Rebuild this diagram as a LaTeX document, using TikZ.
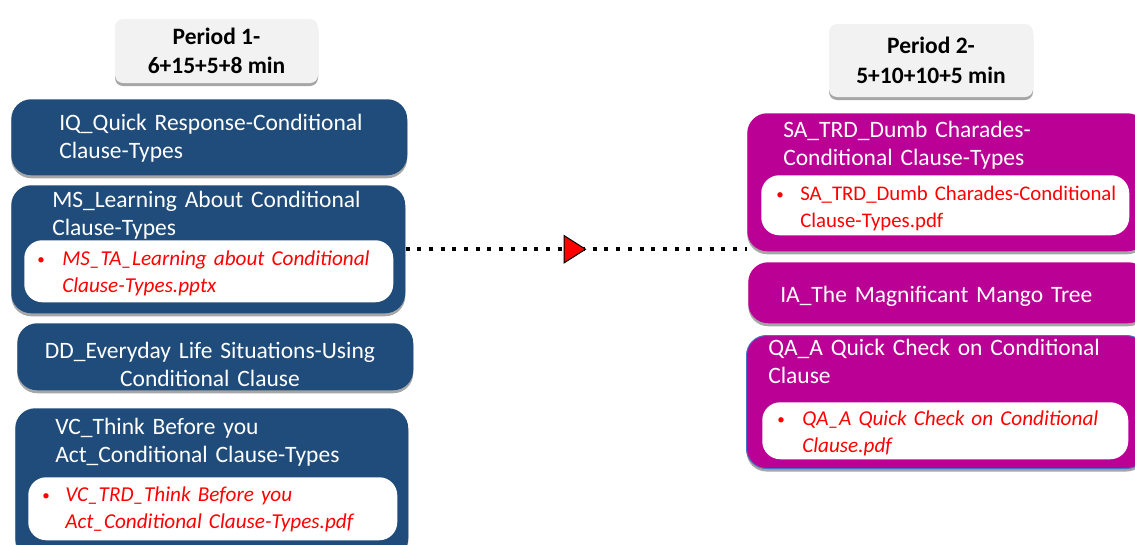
\documentclass[tikz,border=0pt]{standalone}
\usepackage{fontspec}
\setmainfont{Carlito}
\usepackage{xcolor}
\usetikzlibrary{arrows.meta, decorations.markings, shadows}
\definecolor{lessonblue}{RGB}{31,76,122}
\definecolor{lessonpink}{RGB}{187,0,150}
\definecolor{edgeblue}{RGB}{68,114,196}
\definecolor{periodgray}{RGB}{242,242,242}
\newcommand{\filebullet}[1]{\llap{\makebox[#1][l]{\fontsize{15}{15}\selectfont\raisebox{1pt}{•}}}}

\begin{document}
\begin{tikzpicture}[x=1pt, y=-1pt, line width=0.5pt,
		every node/.style={inner sep=0pt},
		boxshadow/.style={drop shadow={shadow xshift=0pt, shadow yshift=-3pt, fill=black, opacity=0.35}},
		period/.style={fill=periodgray, rounded corners=8pt, boxshadow, align=center,
			font=\bfseries\fontsize{23.5}{29.5}\selectfont},
		bluebox/.style={fill=lessonblue, rounded corners=20pt, anchor=north west, boxshadow},
		pinkbox/.style={fill=lessonpink, rounded corners=20pt, anchor=north west, boxshadow},
		filebox/.style={fill=white, rounded corners=18pt, anchor=north west},
		ttl/.style={text=white, text width=380pt, align=left, anchor=base west,
			font=\fontsize{23.5}{28.5}\selectfont},
		file/.style={text=red, text width=340pt, align=left, anchor=base west,
			font=\fontsize{21.2}{27.5}\selectfont},
		dotline/.style={line width=4pt, dash pattern=on 4pt off 7.7pt}]
	\useasboundingbox (0,0) rectangle (1135,544);

	% period 1
	\node[period, minimum width=203pt, minimum height=64pt] (p1) at (216.5,51) {Period 1-\\6+15+5+8 min};

	\node[bluebox, minimum width=396pt, minimum height=76pt] (iq) at (11,99) {};
	\node[ttl] (iqt) at (59,130) {IQ\_Quick Response-Conditional\\Clause-Types};

	\node[bluebox, minimum width=394pt, minimum height=128pt] (ms) at (11,185) {};
	\node[ttl] (mst) at (52,207) {MS\_Learning About Conditional\\Clause-Types};
	\node[filebox, minimum width=369pt, minimum height=62pt] (msf) at (24,240) {};
	\node[file] (msft) at (62,265) {\filebullet{25pt}\itshape MS\_TA\_Learning about Conditional\\Clause-Types.pptx};

	\node[bluebox, minimum width=396pt, minimum height=67pt] (dd) at (17,323) {};
	\node[ttl, text width=396pt, align=center, anchor=base] (ddt) at (210,358) {DD\_Everyday Life Situations-Using\\Conditional Clause};

	\node[bluebox, minimum width=393pt, minimum height=150pt] (vc) at (15,408) {};
	\node[ttl] (vct) at (55,434) {VC\_Think Before you\\Act\_Conditional Clause-Types};
	\node[filebox, minimum width=369pt, minimum height=63pt] (vcf) at (28,477) {};
	\node[file] (vcft) at (65,501) {\filebullet{23pt}\itshape VC\_TRD\_Think Before you\\Act\_Conditional Clause-Types.pdf};

	% period 2
	\node[period, minimum width=204pt, minimum height=73pt] (p2) at (931,60.5) {Period 2-\\5+10+10+5 min};

	\node[pinkbox, minimum width=400pt, minimum height=138pt] (sa) at (747,113) {};
	\node[ttl] (sat) at (783,137) {SA\_TRD\_Dumb Charades-\\Conditional Clause-Types};
	\node[filebox, minimum width=368pt, minimum height=60pt] (saf) at (761,175) {};
	\node[file, font=\fontsize{20.8}{27.5}\selectfont] (saft) at (800,200) {\filebullet{24pt}SA\_TRD\_Dumb Charades-Conditional\\Clause-Types.pdf};

	\node[pinkbox, minimum width=400pt, minimum height=61pt] (ia) at (748,262) {};
	\node[ttl] (iat) at (780,302) {IA\_The Magnificant Mango Tree};

	\node[pinkbox, draw=edgeblue, line width=1pt, minimum width=400pt, minimum height=133pt] (qa) at (746,335) {};
	\node[ttl] (qat) at (768,355) {QA\_A Quick Check on Conditional\\Clause};
	\node[filebox, minimum width=366pt, minimum height=57pt] (qaf) at (762,402) {};
	\node[file] (qaft) at (802,425) {\filebullet{25pt}\itshape QA\_A Quick Check on Conditional\\Clause.pdf};

	% link between the periods
	\draw[dotline, decoration={markings, mark=at position 0.53 with
			{\arrow{Triangle[length=23pt, width=29pt, line width=1pt, fill=red]}}},
		postaction={decorate}] (ms.east) -- (ms.east -| sa.west);
\end{tikzpicture}
\end{document}
